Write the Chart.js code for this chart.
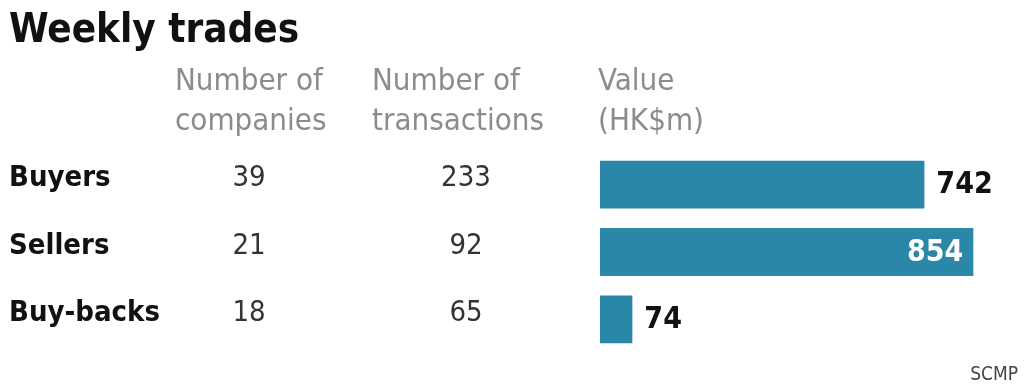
<!DOCTYPE html>
<html lang="en">
<head>
<meta charset="UTF-8">
<title>Weekly trades</title>
<script src="https://cdn.jsdelivr.net/npm/chart.js"></script>
<style>
    html, body {
        margin: 0;
        padding: 0;
        background: #ffffff;
    }
    #wrap {
        position: relative;
        width: 1024px;
        height: 387px;
    }
</style>
</head>
<body>
<div id="wrap">
    <canvas id="tradesChart" width="1024" height="387"></canvas>
</div>
<script>
    // data
    const categories = ['Buyers', 'Sellers', 'Buy-backs'];
    const companies = [39, 21, 18];
    const transactions = [233, 92, 65];
    const valueHKm = [742, 854, 74];
    const headers = [['Number of', 'companies'], ['Number of', 'transactions'], ['Value', '(HK$m)']];

    const BOLD = '"DejaVu Sans Condensed", "Liberation Sans Narrow", sans-serif';
    const LIGHT = '"DejaVu Sans Condensed", "Liberation Sans Narrow", sans-serif';

    // title, column headers, row labels and the two number columns
    const tablePlugin = {
        id: 'tableText',
        afterDraw(chart) {
            const ctx = chart.ctx;
            const y = chart.scales.y;
            ctx.save();

            ctx.fillStyle = '#111';
            ctx.font = 'bold 40px ' + BOLD;
            ctx.textAlign = 'left';
            ctx.textBaseline = 'alphabetic';
            ctx.fillText('Weekly trades', 9, 42);

            ctx.fillStyle = '#8c8c8c';
            ctx.font = '31px ' + LIGHT;
            const headX = [175, 372, 598];
            headers.forEach((h, i) => {
                ctx.fillText(h[0], headX[i], 90);
                ctx.fillText(h[1], headX[i], 130);
            });

            categories.forEach((c, i) => {
                const cy = y.getPixelForValue(i) - 6;
                ctx.textBaseline = 'middle';
                ctx.textAlign = 'left';
                ctx.fillStyle = '#111';
                ctx.font = 'bold 29px ' + BOLD;
                ctx.fillText(c, 9, cy);

                ctx.textAlign = 'center';
                ctx.fillStyle = '#333';
                ctx.font = '29px ' + LIGHT;
                ctx.fillText(String(companies[i]), 249, cy);
                ctx.fillText(String(transactions[i]), 466, cy);
            });

            ctx.textAlign = 'right';
            ctx.textBaseline = 'alphabetic';
            ctx.fillStyle = '#444';
            ctx.font = '19px ' + LIGHT;
            ctx.fillText('SCMP', 1018, 380);
            ctx.restore();
        }
    };

    // value labels at the bar ends
    const valuePlugin = {
        id: 'valueLabels',
        afterDatasetsDraw(chart) {
            const ctx = chart.ctx;
            const meta = chart.getDatasetMeta(0);
            const maxVal = Math.max(...valueHKm);
            ctx.save();
            ctx.font = 'bold 30px ' + BOLD;
            ctx.textBaseline = 'middle';
            meta.data.forEach((bar, i) => {
                if (valueHKm[i] === maxVal) {
                    ctx.fillStyle = '#ffffff';
                    ctx.textAlign = 'right';
                    ctx.fillText(String(valueHKm[i]), bar.x - 10, bar.y + 1);
                } else {
                    ctx.fillStyle = '#111';
                    ctx.textAlign = 'left';
                    ctx.fillText(String(valueHKm[i]), bar.x + 12, bar.y + 1);
                }
            });
            ctx.restore();
        }
    };

    new Chart(document.getElementById('tradesChart'), {
        type: 'bar',
        data: {
            labels: categories,
            datasets: [{
                data: valueHKm,
                backgroundColor: '#2b87a7',
                borderWidth: 0,
                categoryPercentage: 1,
                barPercentage: 0.71
            }]
        },
        options: {
            indexAxis: 'y',
            responsive: false,
            animation: false,
            layout: { padding: { left: 600, right: 24, top: 151, bottom: 34 } },
            scales: {
                x: { display: false, min: 0, max: 915 },
                y: { display: false }
            },
            plugins: {
                legend: { display: false },
                tooltip: { enabled: false }
            }
        },
        plugins: [tablePlugin, valuePlugin]
    });
</script>
</body>
</html>
